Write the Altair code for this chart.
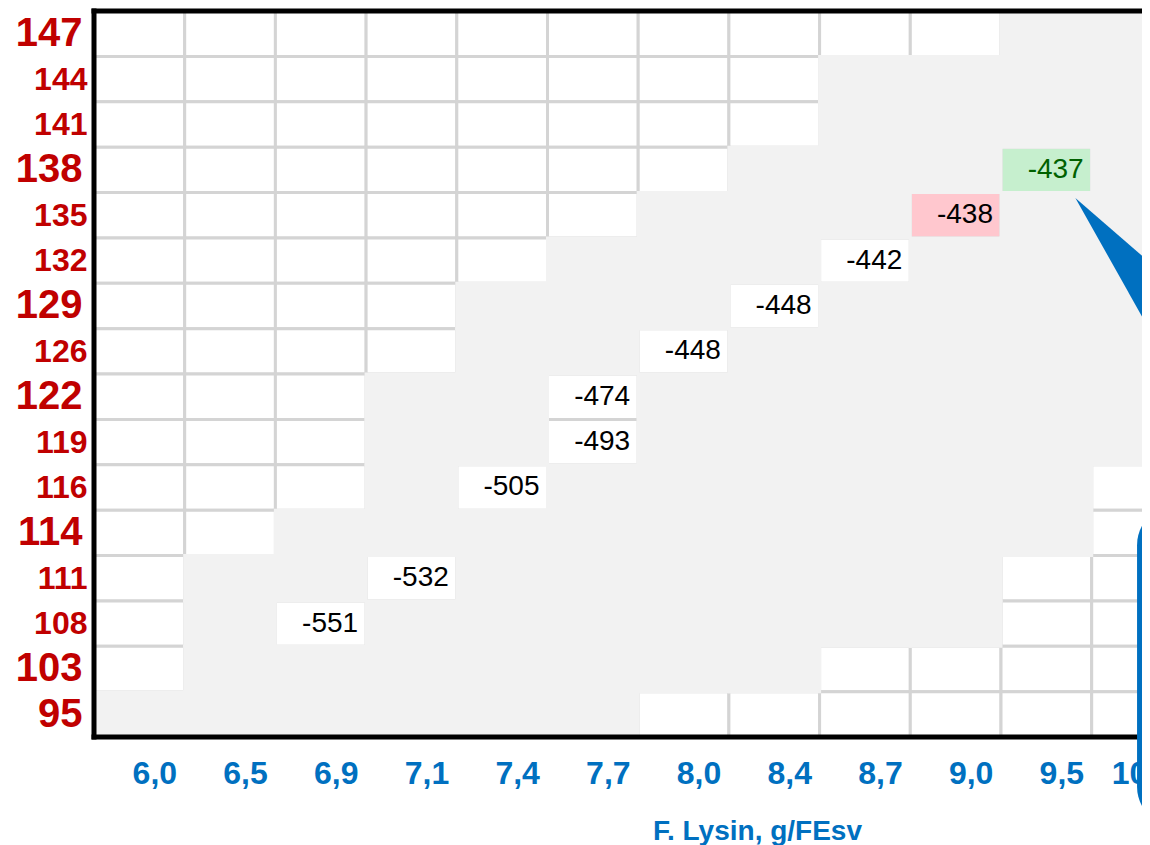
import json
import altair as alt
import pandas as pd

# ---------------- data ----------------
cols = ["6,0", "6,5", "6,9", "7,1", "7,4", "7,7", "8,0", "8,4", "8,7", "9,0", "9,5", "10"]
rows = ["147", "144", "141", "138", "135", "132", "129", "126",
        "122", "119", "116", "114", "111", "108", "103", "95"]
large_rows = ["147", "138", "129", "122", "114", "103", "95"]

# white (open) cells counted from the left of each row
white_left = [10, 8, 8, 7, 6, 5, 4, 4, 3, 3, 3, 2, 1, 1, 1, 0]
# first column index of the open cells at the right end of each row (12 = none)
white_right_from = [12, 12, 12, 12, 12, 12, 12, 12, 12, 12, 11, 11, 10, 10, 8, 6]

value_rows = ["138", "135", "132", "129", "126", "122", "119", "116", "111", "108"]
value_cols = ["9,5", "9,0", "8,7", "8,4", "8,0", "7,7", "7,7", "7,4", "7,1", "6,9"]
values = [-437, -438, -442, -448, -448, -474, -493, -505, -532, -551]
value_status = ["best", "second", "", "", "", "", "", "", "", ""]

# callout annotation (in column / row units)
pointer_x = [10.82, 12.2]
pointer_top = [4.12, 6.51]
pointer_bottom = [4.12, 9.03]
box_x = [11.5]
box_x2 = [14.0]
box_y = [10.89]
box_y2 = [17.98]

# ---------------- tables ----------------
status_fill = {"best": "#c6efce", "second": "#ffc7ce", "": "#ffffff"}
status_text = {"best": "#006100", "second": "#000000", "": "#000000"}
vals = {(r, c): (v, s) for r, c, v, s in zip(value_rows, value_cols, values, value_status)}

recs = []
for ri, r in enumerate(rows):
    for ci, c in enumerate(cols):
        if (r, c) in vals:
            v, s = vals[(r, c)]
            kind, fill, label, tcol = "value", status_fill[s], str(v), status_text[s]
        elif ci < white_left[ri] or ci >= white_right_from[ri]:
            kind, fill, label, tcol = "white", "#ffffff", "", "#000000"
        else:
            kind, fill, label, tcol = "grey", "#f2f2f2", "", "#000000"
        recs.append(dict(x0=ci, x1=ci + 1, y0=ri, y1=ri + 1, ym=ri + 0.5,
                         kind=kind, fill=fill, label=label, tcol=tcol))
cells = pd.DataFrame(recs)
open_cells = cells[cells.kind != "grey"]
grey_cells = cells[cells.kind == "grey"]
text_cells = cells[cells.kind == "value"]

ncol = len(cols)
nrow = len(rows)
col_px = 90.7
plot_w = 1048
x_max = plot_w / col_px

large_idx = [rows.index(r) for r in large_rows]
FONT = "Liberation Sans"
is_large = f"indexof({json.dumps(large_idx)}, floor(datum.value)) >= 0"

xscale = alt.Scale(domain=[0, x_max], nice=False, zero=False)
yscale = alt.Scale(domain=[0, nrow], nice=False, zero=False, reverse=True)

xax = alt.Axis(
    values=[i + 0.5 for i in range(ncol)],
    labelExpr=json.dumps(cols) + "[floor(datum.value)]",
    title="F. Lysin, g/FEsv",
    ticks=False, tickSize=0, grid=False, domain=False, zindex=0,
    labelFont=FONT, labelFontSize=32, labelFontWeight="bold", labelColor="#0070c0",
    labelPadding=46, labelBaseline="alphabetic",
    labelOffset={"condition": {"test": f"floor(datum.value) == {ncol - 1}", "value": -8}, "value": 15},
    labelFlush=False, labelOverlap=False,
    titleFont=FONT, titleFontSize=28, titleFontWeight="bold", titleColor="#0070c0",
    titleX=663, titleY=102, titleBaseline="alphabetic", titleAlign="center",
)
yax = alt.Axis(
    values=[i + 0.5 for i in range(nrow)],
    labelExpr=json.dumps(rows) + "[floor(datum.value)]",
    title=None,
    ticks=False, tickSize=0, grid=False, domain=False, zindex=0,
    labelFont=FONT, labelFontWeight="bold", labelColor="#c00000",
    labelFontSize={"condition": {"test": is_large, "value": 40}, "value": 32},
    labelPadding={"condition": {"test": is_large, "value": 12}, "value": 7},
    labelFlush=False, labelOverlap=False,
)

X = alt.X("x0:Q", scale=xscale, axis=xax)
Y = alt.Y("y0:Q", scale=yscale, axis=yax)

open_layer = alt.Chart(open_cells).mark_rect(stroke="#d4d4d4", strokeWidth=3).encode(
    x=X, x2="x1:Q", y=Y, y2="y1:Q", fill=alt.Fill("fill:N", scale=None)
)
grey_layer = alt.Chart(grey_cells).mark_rect(fill="#f2f2f2", stroke="#f2f2f2", strokeWidth=3).encode(
    x=X, x2="x1:Q", y=Y, y2="y1:Q"
)
text_layer = alt.Chart(text_cells).mark_text(
    align="right", baseline="middle", dx=-8, font=FONT, fontSize=28
).encode(
    x=alt.X("x1:Q", scale=xscale, axis=xax),
    y=alt.Y("ym:Q", scale=yscale, axis=yax),
    text="label:N",
    color=alt.Color("tcol:N", scale=None),
)

hborder = alt.Chart(pd.DataFrame({"y0": [0, nrow]})).mark_rule(
    color="black", strokeWidth=5, strokeCap="square"
).encode(y=Y)
vborder = alt.Chart(pd.DataFrame({"x0": [0]})).mark_rule(
    color="black", strokeWidth=5, strokeCap="square"
).encode(x=X)

pointer = alt.Chart(pd.DataFrame({"x0": pointer_x, "yt": pointer_top, "yb": pointer_bottom})).mark_area(
    color="#0070c0", orient="vertical", opacity=1
).encode(
    x=X,
    y=alt.Y("yt:Q", scale=yscale, axis=yax),
    y2="yb:Q",
)
box = alt.Chart(pd.DataFrame({"x0": box_x, "x1": box_x2, "y0": box_y, "y1": box_y2})).mark_rect(
    color="#0070c0", cornerRadius=40
).encode(x=X, x2="x1:Q", y=Y, y2="y1:Q")

chart = alt.layer(open_layer, grey_layer, text_layer, hborder, vborder, pointer, box).properties(
    width=plot_w,
    height=726,
    padding={"left": 86, "top": 3, "right": 0, "bottom": 108},
    autosize=alt.AutoSizeParams(type="none"),
).configure_view(strokeWidth=0)

chart.save("out.html", embed_options={"renderer": "svg", "actions": False})
